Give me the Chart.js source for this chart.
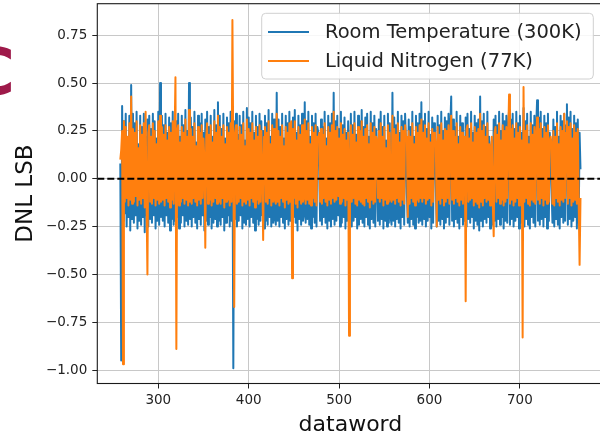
<!DOCTYPE html>
<html><head><meta charset="utf-8">
<script src="https://cdn.jsdelivr.net/npm/chart.js@4.4.1/dist/chart.umd.min.js"></script>
<style>
html,body{margin:0;padding:0;background:#fff;overflow:hidden;width:600px;height:435px;}
#wrap{position:absolute;left:0;top:0;width:620px;height:435px;}
#panel{position:absolute;left:-32px;top:40px;font-family:"DejaVu Sans";font-weight:bold;font-size:64px;line-height:64px;color:#9e1a4a;z-index:2;}
</style></head><body>
<div id="wrap"><canvas id="c" width="620" height="435"></canvas></div>
<div id="panel">C</div>
<script>
// ---------------- data ----------------
const FIRST_CODE = 258;   // first dataword plotted
const seriesLabels = ['Room Temperature (300K)', 'Liquid Nitrogen (77K)'];
const xTickValues = [300, 400, 500, 600, 700];
const yTickValues = [-1.0, -0.75, -0.5, -0.25, 0, 0.25, 0.5, 0.75];
const xLimits = [232.55, 792.45];
const yLimits = [-1.07, 0.915];

const roomTemp300K = [
 0.08,-0.95,0.38,-0.22,0.30,-0.18,0.34,-0.25,0.21,-0.20,0.33,-0.27,0.49,-0.21,
 0.34,-0.23,0.29,-0.19,0.35,-0.26,0.18,-0.22,0.33,-0.24,0.27,-0.20,0.34,-0.28,0.22,-0.19,
 0.31,-0.25,0.33,-0.21,0.26,-0.23,0.34,-0.19,0.30,-0.26,0.21,-0.22,0.35,-0.24,0.50,-0.20,
 0.33,-0.22,0.28,-0.25,0.34,-0.19,0.24,-0.23,0.32,-0.27,0.29,-0.21,0.35,-0.24,0.26,-0.22,
 0.30,-0.20,0.34,-0.26,0.22,-0.23,0.33,-0.19,0.28,-0.25,0.36,-0.22,0.25,-0.24,0.50,-0.21,
 0.32,-0.25,0.27,-0.20,0.35,-0.23,0.19,-0.26,0.33,-0.21,0.29,-0.24,0.34,-0.19,0.24,-0.27,
 0.31,-0.22,0.35,-0.24,0.27,-0.20,0.33,-0.26,0.22,-0.23,0.36,-0.21,0.28,-0.25,0.40,-0.22,
 0.33,-0.24,0.26,-0.20,0.34,-0.27,0.21,-0.23,0.32,-0.19,0.29,-0.25,0.35,-0.22,0.30,-0.99,
 0.30,-0.21,0.34,-0.25,0.23,-0.22,0.33,-0.19,0.28,-0.26,0.35,-0.23,0.20,-0.24,0.37,-0.21,
 0.32,-0.25,0.29,-0.20,0.35,-0.23,0.24,-0.27,0.33,-0.21,0.27,-0.24,0.34,-0.22,0.30,-0.19,
 0.25,-0.26,0.33,-0.22,0.29,-0.24,0.36,-0.20,0.22,-0.25,0.34,-0.23,0.31,-0.21,-0.24,0.45,
 -0.22,0.31,-0.25,0.27,-0.20,0.34,-0.23,0.21,-0.26,0.33,-0.21,0.29,-0.24,0.35,-0.22,0.26,
 -0.25,0.32,-0.20,0.36,-0.23,0.24,-0.27,0.33,-0.21,0.28,-0.24,0.34,-0.22,-0.19,0.40,-0.23,
 0.30,-0.21,0.35,-0.24,0.22,-0.26,0.33,-0.20,0.29,-0.23,0.34,-0.25,0.27,0.24,0.04,-0.22,
 0.31,-0.24,0.27,-0.20,0.35,-0.23,0.21,-0.26,0.33,-0.22,0.29,-0.25,0.34,-0.21,0.45,-0.24,
 0.30,-0.22,0.33,-0.19,0.26,-0.25,0.35,-0.23,0.28,-0.20,0.32,-0.26,0.24,-0.22,0.30,0.02,
 -0.21,0.34,-0.25,0.28,-0.22,0.35,-0.20,0.23,-0.26,0.33,-0.24,0.30,-0.21,0.36,-0.23,0.27,
 -0.25,0.32,-0.20,0.34,-0.24,0.22,-0.26,0.35,-0.21,0.29,-0.23,0.33,-0.25,0.26,0.00,-0.22,
 0.31,-0.24,0.35,-0.21,0.27,-0.26,0.33,-0.22,0.20,-0.25,0.34,-0.23,0.29,-0.20,-0.24,0.45,
 -0.22,0.32,-0.25,0.28,-0.21,0.35,-0.23,0.24,-0.26,0.33,-0.20,0.30,-0.24,0.34,0.18,-0.08,
 -0.23,0.31,-0.25,0.27,-0.21,0.35,-0.24,0.22,-0.26,0.33,-0.20,0.29,-0.23,0.34,-0.22,0.40,
 -0.24,0.30,-0.21,0.34,-0.25,0.26,-0.22,0.35,-0.20,0.23,-0.26,0.32,-0.23,0.29,0.20,-0.04,
 -0.25,0.33,-0.22,0.28,-0.24,0.35,-0.21,0.25,-0.26,0.32,-0.23,0.30,-0.20,0.34,-0.24,0.27,
 0.43,-0.22,0.31,-0.25,0.27,-0.21,0.35,-0.23,0.22,-0.26,0.33,-0.20,0.29,-0.24,0.05,-0.22,
 0.32,-0.25,0.34,-0.21,0.26,-0.23,0.35,-0.20,0.24,-0.26,0.33,-0.22,0.29,-0.24,0.31,-0.27,
 0.43,-0.22,0.30,-0.25,0.34,-0.21,0.27,-0.23,0.35,-0.20,0.22,-0.26,0.15,0.20,-0.24,0.31,
 -0.22,0.33,-0.25,0.28,-0.21,0.35,-0.24,0.25,-0.20,0.34,-0.26,0.30,-0.22,0.33,-0.23,0.27,
 0.36,-0.24,0.31,-0.21,0.34,-0.25,0.26,-0.22,0.35,-0.20,0.29,-0.26,0.33,-0.23,0.24,0.02,
 0.37,-0.25,0.30,-0.21,0.34,-0.24,0.22,-0.26,0.35,-0.20,0.28,-0.23,0.33,-0.25,0.27,0.41,
 -0.22,0.32,-0.24,0.35,-0.21,0.26,-0.25,0.33,-0.20,0.29,-0.26,0.34,-0.22,0.24,0.12,-0.05,
 -0.23,0.31,-0.25,0.27,-0.21,0.35,-0.24,0.22,-0.26,0.33,-0.20,0.30,-0.23,0.34,-0.22,0.28,
 0.39,-0.24,0.32,-0.21,0.35,-0.25,0.26,-0.22,0.33,-0.20,0.29,-0.26,0.31,-0.23,0.24,0.05
];

const liquidN2_77K = [
 0.10,0.15,0.25,-0.97,0.30,-0.12,0.27,-0.10,0.22,-0.14,0.29,-0.11,0.43,-0.13,
 0.26,-0.12,0.24,-0.09,0.30,-0.14,0.16,-0.11,0.28,-0.13,0.23,-0.10,0.29,-0.15,0.35,-0.11,
 -0.50,0.24,0.28,-0.12,0.22,-0.13,0.29,-0.10,0.25,-0.14,0.18,-0.11,0.30,-0.13,0.33,-0.12,
 0.27,-0.11,0.23,-0.14,0.28,-0.10,0.20,-0.12,0.27,-0.15,0.24,-0.11,0.30,-0.13,0.21,0.53,
 -0.89,0.25,0.28,-0.14,0.19,-0.12,0.27,-0.10,0.24,-0.13,0.31,-0.11,0.22,-0.14,0.36,-0.12,
 0.26,-0.13,0.22,-0.10,0.29,-0.12,0.17,-0.14,0.27,-0.11,0.24,-0.13,0.28,-0.10,0.21,0.10,
 -0.36,0.22,0.29,-0.13,0.23,-0.11,0.28,-0.14,0.19,-0.12,0.30,-0.10,0.24,-0.13,0.33,-0.12,
 0.27,-0.13,0.22,-0.10,0.28,-0.15,0.18,-0.12,0.27,-0.11,0.24,-0.14,0.29,-0.12,0.83,0.10,
 -0.67,0.24,0.28,-0.13,0.20,-0.12,0.27,-0.10,0.23,-0.14,0.29,-0.12,0.17,-0.13,0.31,-0.11,
 0.26,-0.14,0.24,-0.10,0.29,-0.12,0.20,-0.15,0.27,-0.11,0.22,-0.13,0.28,-0.12,0.25,0.05,
 -0.32,0.22,0.27,-0.12,0.24,-0.13,0.30,-0.10,0.18,-0.14,0.28,-0.12,0.26,-0.11,-0.13,0.34,
 -0.12,0.25,-0.14,0.22,-0.10,0.28,-0.12,0.17,-0.15,0.27,-0.11,0.24,-0.13,0.29,-0.12,0.30,
 -0.52,0.26,-0.10,0.30,-0.13,0.20,-0.15,0.27,-0.11,0.23,-0.13,0.28,-0.12,-0.10,0.31,-0.13,
 0.25,-0.11,0.29,-0.13,0.18,-0.14,0.27,-0.10,0.24,-0.12,0.28,-0.14,0.22,0.20,0.24,-0.12,
 0.26,-0.13,0.23,-0.10,0.29,-0.12,0.17,-0.14,0.27,-0.11,0.24,-0.13,0.28,-0.10,0.35,-0.12,
 0.25,-0.11,0.27,-0.09,0.21,-0.13,0.29,-0.12,0.23,-0.10,0.26,-0.14,0.20,-0.11,0.24,-0.82,
 0.10,0.28,-0.12,0.23,-0.10,0.29,-0.13,0.19,-0.14,0.27,-0.11,0.25,-0.12,0.30,-0.13,0.22,
 -0.14,0.26,-0.10,0.28,-0.12,0.18,-0.15,0.29,-0.11,0.24,-0.13,0.27,-0.12,0.22,0.20,-0.10,
 0.25,-0.12,0.29,-0.10,0.22,-0.14,0.27,-0.11,0.16,-0.13,0.28,-0.12,0.24,-0.10,-0.12,0.33,
 -0.11,0.26,-0.13,0.23,-0.10,0.29,-0.12,0.19,-0.14,0.27,-0.11,0.25,-0.13,0.28,0.22,0.20,
 -0.20,0.25,-0.13,0.22,-0.10,0.29,-0.12,0.18,-0.14,0.27,-0.11,0.24,-0.12,0.28,-0.10,0.31,
 -0.12,0.24,-0.10,0.28,-0.13,0.21,-0.11,0.29,-0.10,0.19,-0.14,0.26,-0.12,0.24,0.22,0.18,
 -0.25,0.27,-0.11,0.23,-0.13,0.29,-0.10,0.20,-0.14,0.26,-0.12,0.25,-0.10,0.28,-0.13,0.22,
 0.33,-0.11,0.25,-0.13,0.22,-0.10,0.29,-0.12,0.18,-0.14,0.27,-0.11,0.24,-0.13,0.20,0.22,
 -0.64,0.26,0.28,-0.12,0.21,-0.11,0.29,-0.10,0.19,-0.14,0.27,-0.12,0.24,-0.13,0.26,-0.15,
 0.34,-0.12,0.25,-0.14,0.28,-0.10,0.22,-0.12,0.29,-0.11,0.18,-0.14,0.15,0.22,-0.13,-0.30,
 0.24,0.27,-0.12,0.23,-0.10,0.29,-0.13,0.20,-0.11,0.28,-0.14,0.25,-0.12,0.27,-0.10,0.22,
 0.44,-0.13,0.26,-0.11,0.28,-0.14,0.21,-0.12,0.29,-0.10,0.24,-0.14,0.27,-0.12,0.20,-0.83,
 0.48,-0.12,0.25,-0.10,0.28,-0.13,0.18,-0.14,0.29,-0.11,0.23,-0.12,0.27,-0.13,0.22,0.32,
 -0.11,0.26,-0.13,0.29,-0.10,0.21,-0.14,0.27,-0.11,0.24,-0.13,0.28,-0.12,0.20,0.22,0.18,
 -0.13,0.25,-0.14,0.22,-0.10,0.29,-0.12,0.18,-0.14,0.27,-0.11,0.25,-0.12,0.34,-0.10,0.24,
 0.30,-0.13,0.27,-0.10,0.29,-0.14,0.21,-0.12,0.28,-0.11,0.24,-0.13,0.26,-0.12,-0.45,-0.10
];

// consecutive datawords
const dataword = roomTemp300K.map((_, i) => FIRST_CODE + i);

// ---------------- chart ----------------
Chart.defaults.font.family = '"DejaVu Sans", sans-serif';
const minusFmt = v => (v < 0 ? '\u2212' : '') + Math.abs(v).toFixed(2);

const framePlugin = {
  id: 'frame',
  afterDatasetsDraw(chart) {
    const {ctx, chartArea: a} = chart;
    ctx.save();
    ctx.strokeStyle = '#1a1a1a';
    ctx.lineWidth = 1.1;
    ctx.strokeRect(a.left, a.top, a.right - a.left, a.bottom - a.top);
    ctx.restore();
  }
};

const legendPlugin = {
  id: 'mplLegend',
  afterDraw(chart) {
    const ctx = chart.ctx;
    ctx.save();
    ctx.beginPath();
    ctx.roundRect(261.7, 13.3, 331.6, 65.7, 4);
    ctx.fillStyle = 'rgba(255,255,255,0.85)';
    ctx.fill();
    ctx.strokeStyle = '#d0d0d0';
    ctx.lineWidth = 1;
    ctx.stroke();
    ctx.font = '19.5px "DejaVu Sans"';
    ctx.textBaseline = 'middle';
    ctx.textAlign = 'left';
    chart.data.datasets.slice(0, 2).forEach((ds, i) => {
      const yy = 32 + i * 29;
      ctx.beginPath();
      ctx.moveTo(268, yy);
      ctx.lineTo(309, yy);
      ctx.strokeStyle = ds.borderColor;
      ctx.lineWidth = 2;
      ctx.stroke();
      ctx.fillStyle = '#222';
      ctx.fillText(ds.label, 325, yy + 1);
    });
    ctx.restore();
  }
};

const lineStyle = {pointRadius: 0, borderWidth: 2, tension: 0, borderJoinStyle: 'round', fill: false};

new Chart(document.getElementById('c'), {
  type: 'line',
  data: {
    datasets: [
      Object.assign({label: seriesLabels[0], borderColor: '#1f77b4', order: 2,
        data: dataword.map((x, i) => ({x, y: roomTemp300K[i]}))}, lineStyle),
      Object.assign({label: seriesLabels[1], borderColor: '#ff7f0e', order: 1,
        data: dataword.map((x, i) => ({x, y: liquidN2_77K[i]}))}, lineStyle),
      {label: 'zero', borderColor: '#000', borderWidth: 2, borderDash: [7, 3], pointRadius: 0, order: 0,
        data: [{x: xLimits[0], y: 0}, {x: xLimits[1], y: 0}]}
    ]
  },
  options: {
    responsive: false,
    animation: false,
    devicePixelRatio: 1,
    layout: {padding: {left: 0, right: 16.5, top: 3.7, bottom: 0}},
    plugins: {legend: {display: false}, tooltip: {enabled: false}},
    scales: {
      x: {
        type: 'linear', min: xLimits[0], max: xLimits[1],
        afterBuildTicks: s => { s.ticks = xTickValues.map(v => ({value: v})); },
        afterFit: s => { s.height = 51.5; s.paddingLeft = 0; s.paddingRight = 0; },
        ticks: {color: '#222', font: {size: 13.5}, padding: 4, maxRotation: 0, callback: v => String(v)},
        grid: {color: '#c8c8c8', lineWidth: 1, tickColor: '#222', tickLength: 5, tickWidth: 1},
        border: {display: false},
        title: {display: true, text: 'dataword', color: '#111', font: {size: 22}, padding: {top: 0, bottom: -3}}
      },
      y: {
        type: 'linear', min: yLimits[0], max: yLimits[1],
        afterBuildTicks: s => { s.ticks = yTickValues.map(v => ({value: v})); },
        afterFit: s => { s.width = 97.3; s.paddingTop = 0; s.paddingBottom = 0; },
        ticks: {color: '#222', font: {size: 13.5}, padding: 5, callback: minusFmt},
        grid: {color: '#c8c8c8', lineWidth: 1, tickColor: '#222', tickLength: 5, tickWidth: 1},
        border: {display: false},
        title: {display: true, text: 'DNL LSB', color: '#111', font: {size: 23}, padding: {top: 12, bottom: 0}}
      }
    }
  },
  plugins: [framePlugin, legendPlugin]
});
</script>
</body></html>
